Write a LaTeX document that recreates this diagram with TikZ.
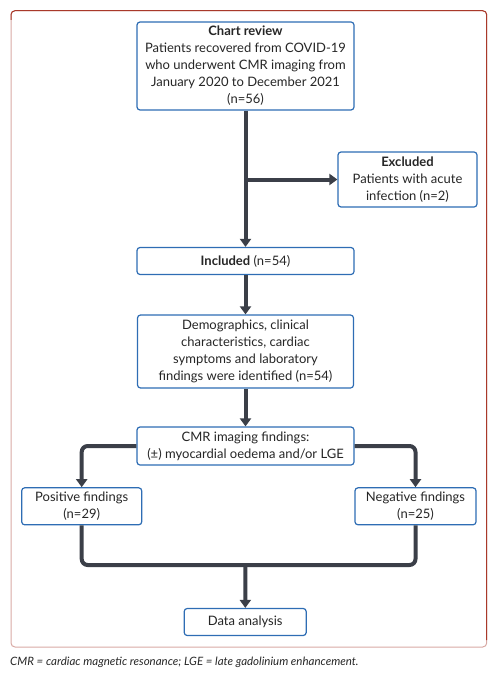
\documentclass[tikz,border=0pt]{standalone}
\usepackage{fontspec}
\setmainfont{Lato}
\usetikzlibrary{arrows.meta}
\definecolor{boxblue}{HTML}{2E6DB4}
\definecolor{arrowgrey}{HTML}{3B3F48}
\definecolor{framered}{HTML}{A9392A}
\definecolor{framepink}{HTML}{D8A9A4}
\definecolor{textgrey}{HTML}{262626}

\begin{document}
\begin{tikzpicture}[x=1pt, y=-1pt,
		flowbox/.style={draw=boxblue, line width=1.2pt, rounded corners=3pt, fill=white, align=center, inner sep=0pt, text=textgrey, font=\fontsize{13}{17}\selectfont},
		flowarrow/.style={draw=arrowgrey, line width=4pt, -{Triangle[width=11pt, length=8pt]}},
		flowline/.style={draw=arrowgrey, line width=4pt},
	]
		\useasboundingbox (0,0) rectangle (495,679);
		\draw[framepink, line width=1pt, rounded corners=4pt] (11,10.7) rectangle (486.7,647);
		\draw[framered, line width=1pt, rounded corners=4pt] (11,20) |- (486.7,10.7) -- (486.7,640);

		\node[flowbox, minimum width=217pt, minimum height=88pt] (review) at (245.5,66) {\textbf{Chart review}\\Patients recovered from COVID-19\\who underwent CMR imaging from\\January 2020 to December 2021\\(n=56)};
		\node[flowbox, minimum width=139pt, minimum height=55pt] (excl) at (407.5,179.5) {\textbf{Excluded}\\Patients with acute\\infection (n=2)};
		\node[flowbox, minimum width=217pt, minimum height=27pt] (incl) at (245.5,261) {\textbf{Included} (n=54)};
		\node[flowbox, minimum width=216pt, minimum height=73pt] (demo) at (245.5,351.5) {Demographics, clinical\\characteristics, cardiac\\symptoms and laboratory\\findings were identified (n=54)};
		\node[flowbox, minimum width=217pt, minimum height=38pt] (cmr) at (245.5,446) {CMR imaging findings:\\(±) myocardial oedema and/or LGE};
		\node[flowbox, minimum width=120pt, minimum height=37pt] (pos) at (81.7,506.3) {Positive findings\\(n=29)};
		\node[flowbox, minimum width=121pt, minimum height=37pt] (neg) at (415.5,506.3) {Negative findings\\(n=25)};
		\node[flowbox, minimum width=122pt, minimum height=27pt] (data) at (245.2,622) {Data analysis};

		\coordinate (split) at (245.5,179.5);
		\coordinate (merge) at (245.5,565);

		\draw[flowarrow] (review) -- (incl);
		\draw[flowarrow] (split) -- (excl);
		\draw[flowarrow] (incl) -- (demo);
		\draw[flowarrow] (demo) -- (cmr);
		\draw[flowarrow, rounded corners=6pt] (cmr.west) -| (pos.north);
		\draw[flowarrow, rounded corners=6pt] (cmr.east) -| (neg.north);
		\draw[flowline, rounded corners=6pt] (pos.south) |- (merge) -| (neg.south);
		\draw[flowarrow] (merge) -- (data);

		\node[anchor=west, inner sep=0pt, text=textgrey, font=\fontsize{11.5}{13}\selectfont\itshape] (note) at (10,662) {CMR = cardiac magnetic resonance; LGE = late gadolinium enhancement.};
	\end{tikzpicture}
\end{document}
